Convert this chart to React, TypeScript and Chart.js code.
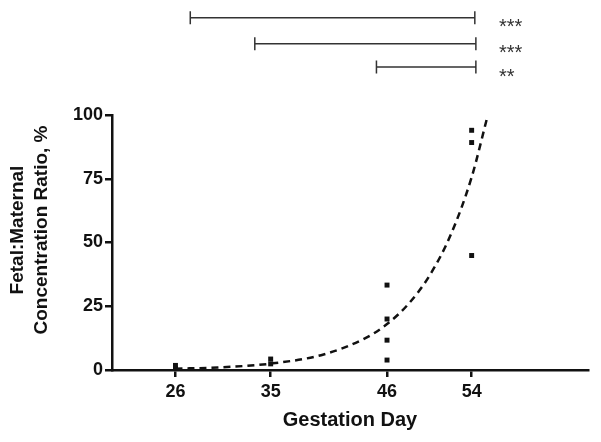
import { useEffect, useRef } from 'react';
import { Chart, registerables } from 'chart.js';
Chart.register(...registerables);

const xTicks = [26, 35, 46, 54];
const yTicks = [0, 25, 50, 75, 100];
const pointDays = [26, 26, 35, 35, 46, 46, 46, 46, 54, 54, 54];
const pointRatios = [1.8, 0.6, 4.3, 2.4, 33.3, 20, 11.7, 3.9, 94, 89.2, 44.9];
const fitDays = [26, 30, 35, 40, 44, 46, 48, 50, 52, 54, 55.5];
const fitRatios = [0.5, 1.0, 2.5, 6.1, 12.6, 18, 25.8, 36.9, 52.8, 75.6, 99.5];
const bracketStarts = [27.4, 33.5, 45];
const bracketEnds = [54.3, 54.4, 54.4];
const bracketLabels = ['***', '***', '**'];
const bracketRows = [17.7, 43.7, 67];
const yTitleLines = ['Fetal:Maternal', 'Concentration Ratio, %'];
const xTitle = 'Gestation Day';

const FONT = '"Liberation Sans", Arial, Helvetica, sans-serif';

const overlay = {
  id: 'overlay',
  afterDraw(chart: any) {
    const ctx = chart.ctx;
    const xs = chart.scales.x;
    ctx.save();
    // brackets
    ctx.strokeStyle = '#333';
    ctx.lineWidth = 1.5;
    bracketStarts.forEach((s, i) => {
      const x1 = xs.getPixelForValue(s);
      const x2 = xs.getPixelForValue(bracketEnds[i]);
      const y = bracketRows[i];
      ctx.beginPath();
      ctx.moveTo(x1, y); ctx.lineTo(x2, y);
      ctx.moveTo(x1, y - 6.5); ctx.lineTo(x1, y + 6.5);
      ctx.moveTo(x2, y - 6.5); ctx.lineTo(x2, y + 6.5);
      ctx.stroke();
      ctx.fillStyle = '#333';
      ctx.font = `20px ${FONT}`;
      ctx.textAlign = 'left';
      ctx.textBaseline = 'alphabetic';
      ctx.fillText(bracketLabels[i], 499, y + 15.5);
    });
    // y title
    ctx.fillStyle = '#111';
    ctx.font = `bold 19px ${FONT}`;
    ctx.textAlign = 'center';
    ctx.textBaseline = 'middle';
    const cy = 230;
    [18, 42].forEach((x, i) => {
      ctx.save();
      ctx.translate(x, cy);
      ctx.rotate(-Math.PI / 2);
      ctx.fillText(yTitleLines[i], 0, 0);
      ctx.restore();
    });
    // x title
    ctx.font = `bold 20px ${FONT}`;
    ctx.fillText(xTitle, (chart.chartArea.left + chart.chartArea.right) / 2, 420);
    ctx.restore();
  },
};

export default function App() {
  const ref = useRef<HTMLCanvasElement>(null);
  useEffect(() => {
    const chart = new Chart(ref.current!, {
      type: 'scatter',
      data: {
        datasets: [
          {
            type: 'line',
            data: fitDays.map((d, i) => ({ x: d, y: fitRatios[i] })),
            borderColor: '#111',
            borderWidth: 2.5,
            borderDash: [7, 5],
            pointRadius: 0,
            cubicInterpolationMode: 'monotone',
            fill: false,
          } as any,
          {
            data: pointDays.map((d, i) => ({ x: d, y: pointRatios[i] })),
            pointStyle: 'rect',
            pointRadius: 3.5,
            backgroundColor: '#111',
            borderColor: '#111',
            borderWidth: 0,
          },
        ],
      },
      options: {
        animation: false,
        responsive: false,
        devicePixelRatio: 1,
        layout: { padding: { left: 0, top: 115, right: 13, bottom: 0 } },
        plugins: { legend: { display: false }, tooltip: { enabled: false } },
        scales: {
          x: {
            type: 'linear',
            min: 20,
            max: 65,
            afterBuildTicks: (s: any) => { s.ticks = xTicks.map((v) => ({ value: v })); },
            afterFit: (s: any) => { s.height = 72; },
            grid: { display: true, drawOnChartArea: false, drawTicks: true, tickLength: 7, color: '#111', lineWidth: 2.5 },
            border: { display: true, color: '#111', width: 2.5 },
            ticks: { color: '#111', font: { family: FONT, size: 18, weight: 'bold' }, padding: 4, maxRotation: 0 },
          },
          y: {
            type: 'linear',
            min: 0,
            max: 100,
            afterBuildTicks: (s: any) => { s.ticks = yTicks.map((v) => ({ value: v })); },
            afterFit: (s: any) => { s.width = 112; },
            grid: { display: true, drawOnChartArea: false, drawTicks: true, tickLength: 7, color: '#111', lineWidth: 2.5 },
            border: { display: true, color: '#111', width: 2.5 },
            ticks: { color: '#111', font: { family: FONT, size: 18, weight: 'bold' }, padding: 2 },
          },
        },
      },
      plugins: [overlay],
    });
    return () => chart.destroy();
  }, []);
  return (
    <div style={{ position: 'fixed', left: 0, top: 0, width: 601, height: 442, background: '#fff' }}>
      <canvas ref={ref} width={601} height={442} style={{ width: 601, height: 442 }} />
    </div>
  );
}
